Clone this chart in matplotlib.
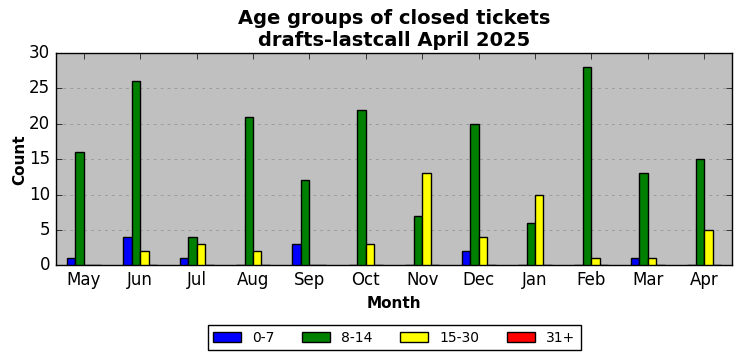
import numpy as np
import matplotlib.pyplot as plt

plt.style.use('classic')

months = ['May', 'Jun', 'Jul', 'Aug', 'Sep', 'Oct', 'Nov', 'Dec', 'Jan', 'Feb', 'Mar', 'Apr']
age_0_7 = [1, 4, 1, 0, 3, 0, 0, 2, 0, 0, 1, 0]
age_8_14 = [16, 26, 4, 21, 12, 22, 7, 20, 6, 28, 13, 15]
age_15_30 = [0, 2, 3, 2, 0, 3, 13, 4, 10, 1, 1, 5]
age_31_plus = [0, 0, 0, 0, 0, 0, 0, 0, 0, 0, 0, 0]

series = [(age_0_7, '0-7', 'blue'), (age_8_14, '8-14', 'green'),
          (age_15_30, '15-30', 'yellow'), (age_31_plus, '31+', 'red')]

fig, ax = plt.subplots(figsize=(7.42, 3.61), dpi=100)
fig.patch.set_facecolor('white')
ax.set_facecolor('silver')

x = np.arange(len(months))
barWidth = 0.15
for i, (vals, label, color) in enumerate(series):
    ax.bar(x + (i - 1.5) * barWidth, vals, width=barWidth, color=color,
           edgecolor='k', label=label, align='center', zorder=3)

ax.set_xlim(-0.5, len(months) - 0.5)
ax.set_ylim(0, 30)
ax.set_xticks(x)
ax.set_xticklabels(months)
ax.tick_params(axis='both', labelsize=12)
ax.yaxis.grid(True, linestyle=(0, (2, 3)), linewidth=0.5, color='gray', alpha=0.8, zorder=0)
ax.xaxis.grid(False)
ax.set_axisbelow(True)

ax.set_xlabel('Month', fontsize=11, fontweight='bold')
ax.set_ylabel('Count', fontsize=11, fontweight='bold', labelpad=1)
ax.set_title('Age groups of closed tickets\ndrafts-lastcall April 2025', fontsize=14, fontweight='bold')

ax.legend(loc='upper center', bbox_to_anchor=(0.5, -0.25), ncol=4, fontsize=10,
          frameon=True, fancybox=False, handlelength=2.0, columnspacing=2.0)

plt.subplots_adjust(left=0.075, right=0.987, top=0.853, bottom=0.265)
plt.savefig('out.png', dpi=100)
